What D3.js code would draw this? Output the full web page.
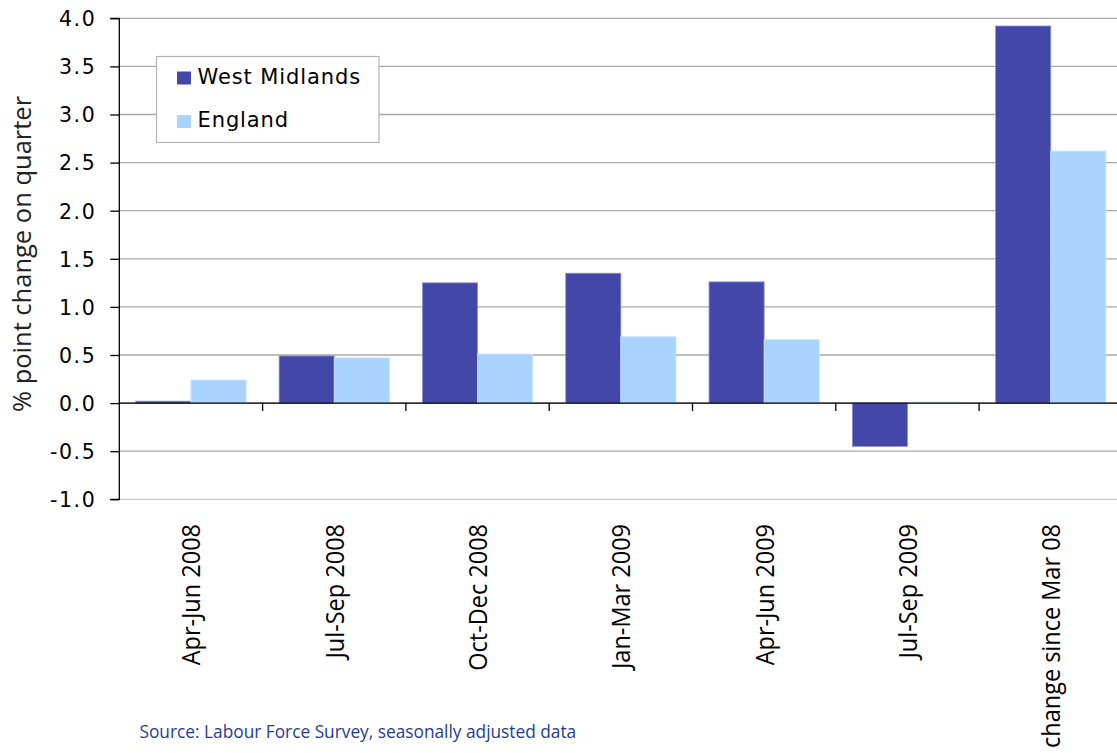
<!DOCTYPE html>
<html><head><meta charset="utf-8">
<script src="https://cdn.jsdelivr.net/npm/d3@7"></script>
<style>
html,body{margin:0;padding:0;background:#fff;}
svg{display:block;}
</style></head>
<body>
<script>
const categories = ["Apr-Jun 2008","Jul-Sep 2008","Oct-Dec 2008","Jan-Mar 2009","Apr-Jun 2009","Jul-Sep 2009","change since Mar 08"];
const seriesNames = ["West Midlands","England"];
const westMidlands = [0.02, 0.49, 1.25, 1.35, 1.26, -0.45, 3.92];
const england = [0.24, 0.47, 0.51, 0.69, 0.66, 0.01, 2.62];
const yTicks = [-1.0,-0.5,0.0,0.5,1.0,1.5,2.0,2.5,3.0,3.5,4.0];
const colors = ["#4348A8","#A8D4FF"];
const yTitle = "% point change on quarter";
const sourceText = "Source: Labour Force Survey, seasonally adjusted data";

(function(){
const W = 1117, H = 753;
const svg = d3.select("body").append("svg").attr("width",W).attr("height",H);

const pLeft = 119.3, step = 143.3, pTop = 18.3, pBottom = 499.3;
const x = d3.scaleBand().domain(categories).range([pLeft, pLeft + step*categories.length]).padding(0);
const xs = d3.scaleBand().domain(seriesNames).range([0, x.bandwidth()]).paddingInner(0).paddingOuter(0.3);
const y = d3.scaleLinear().domain([-1,4]).range([pBottom, pTop]);

// gridlines
svg.append("g").selectAll("line").data(yTicks).join("line")
  .attr("x1", pLeft).attr("x2", W)
  .attr("y1", d=>y(d)).attr("y2", d=>y(d))
  .attr("stroke", d=> d===-1 ? "#c8c8c8" : "#a8a8a8").attr("stroke-width", 1.3);

// bars
const data = categories.map((c,i)=>({cat:c, vals:[westMidlands[i], england[i]]}));
const gb = svg.append("g");
data.forEach(d=>{
  d.vals.forEach((v,j)=>{
    gb.append("rect")
      .attr("x", x(d.cat) + xs(seriesNames[j]))
      .attr("width", xs.bandwidth())
      .attr("y", y(Math.max(0,v)))
      .attr("height", Math.abs(y(v)-y(0)))
      .attr("fill", colors[j])
      .attr("stroke", j===0 ? "#8c90d0" : "#c8e4ff").attr("stroke-width", 0.8);
  });
});

// y axis
const fmt = d => d3.format(".1f")(d).replace("\u2212","-");
const yAxis = d3.axisLeft(y).tickValues(yTicks).tickFormat(fmt).tickSize(9).tickPadding(14);
const ga = svg.append("g").attr("transform", `translate(${pLeft},0)`).call(yAxis);
ga.select(".domain").attr("stroke","#000").attr("stroke-width",1.3).attr("d", `M-9,${pTop}H0V${pBottom}H-9`);
ga.selectAll(".tick line").attr("stroke","#000").attr("stroke-width",1.3);
ga.selectAll(".tick text").attr("font-family","DejaVu Sans, Verdana, sans-serif").attr("font-size",20.5)
  .attr("letter-spacing","1.6px").attr("fill","#000").attr("dy","0.36em");

// zero line with category ticks
const x0 = svg.append("g").attr("transform", `translate(0,${y(0)})`);
x0.append("line").attr("x1",pLeft).attr("x2",W).attr("y1",0).attr("y2",0).attr("stroke","#000").attr("stroke-width",1.3);
const bounds = categories.slice(1).map(c=>x(c));
x0.selectAll("line.t").data(bounds).join("line").attr("class","t")
  .attr("x1",d=>d).attr("x2",d=>d).attr("y1",0).attr("y2",8).attr("stroke","#000").attr("stroke-width",1.3);

// x labels
svg.append("g").selectAll("text").data(categories).join("text")
  .attr("transform", d=>`translate(${x(d)+x.bandwidth()/2+9.5},524) rotate(-90) scale(1,1.12)`)
  .attr("text-anchor","end")
  .attr("font-family","Open Sans, sans-serif").attr("font-size",23.5).attr("fill","#000")
  .text(d=>d);

// y title
svg.append("text")
  .attr("transform", `translate(31,254) rotate(-90)`)
  .attr("text-anchor","middle")
  .attr("font-family","Open Sans, sans-serif").attr("font-size",25.5).attr("fill","#222")
  .text(yTitle);

// legend
const lg = svg.append("g");
lg.append("rect").attr("x",156.5).attr("y",56.5).attr("width",222.5).attr("height",86).attr("fill","#fff")
  .attr("stroke","#b4b4b4").attr("stroke-width",1.2);
seriesNames.forEach((s,i)=>{
  lg.append("rect").attr("x",177).attr("y",71.5 + i*43.5).attr("width",14).attr("height",13).attr("fill",colors[i]);
  lg.append("text").attr("x",197.5).attr("y",83.5 + i*43.8)
    .attr("font-family","DejaVu Sans, Verdana, sans-serif").attr("font-size",21).attr("letter-spacing","0.9px")
    .attr("fill","#000").text(s);
});

// source
svg.append("text").attr("x",139.5).attr("y",738)
  .attr("font-family","Open Sans, sans-serif").attr("font-size",17.3).attr("fill","#1F3C96")
  .text(sourceText);
})();
</script>
</body></html>
